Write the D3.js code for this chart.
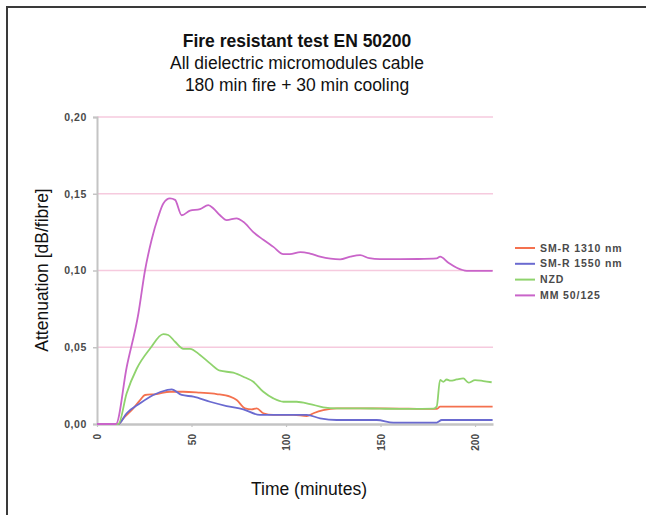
<!DOCTYPE html>
<html>
<head>
<meta charset="utf-8">
<script src="https://cdn.jsdelivr.net/npm/d3@7"></script>
<style>
  html, body { margin: 0; padding: 0; background: #fff; }
  svg { display: block; font-family: "Liberation Sans", Arial, Helvetica, sans-serif; }
</style>
</head>
<body>
<svg id="chart" width="646" height="515"></svg>
<script>
// ---- Data ----
const titleLines = ["Fire resistant test EN 50200", "All dielectric micromodules cable", "180 min fire + 30 min cooling"];
const seriesNames = ["SM-R 1310 nm", "SM-R 1550 nm", "NZD", "MM 50/125"];
const seriesColors = ["#f4714f", "#6a6ad0", "#8fd36d", "#c964c9"];
const yTicks = [0, 0.05, 0.10, 0.15, 0.20];
const xTicks = [0, 50, 100, 150, 200];

const smr1310Time = [0, 11.3, 13.9, 19.2, 22.8, 25.4, 31.6, 38.6, 45.7, 54.5, 63.3, 70.4, 73.9, 78.3, 81.8, 84.5, 88, 93.3, 103.9, 111, 114.5, 119.7, 126.8, 150, 179.7, 181.5, 209.3];
const smr1310Values = [0, 0, 0.0037, 0.0102, 0.0156, 0.0189, 0.0195, 0.021, 0.021, 0.0204, 0.0195, 0.0178, 0.0156, 0.0102, 0.0095, 0.0102, 0.007, 0.0059, 0.0059, 0.0052, 0.007, 0.009, 0.0102, 0.0102, 0.0098, 0.0113, 0.0113];

const smr1550Time = [0, 11.3, 15.7, 22.8, 29.8, 36.9, 39.5, 44.8, 51, 59.8, 68.6, 77.4, 86.2, 95.1, 111, 118, 126.8, 148, 156.8, 179.7, 182.4, 209.3];
const smr1550Values = [0, 0, 0.007, 0.0135, 0.0189, 0.0221, 0.0226, 0.0189, 0.0178, 0.0145, 0.0117, 0.0096, 0.0059, 0.0059, 0.0059, 0.0037, 0.0026, 0.0026, 0.0009, 0.0009, 0.0026, 0.0026];

const nzdTime = [0, 7, 11.3, 15.7, 21, 28, 35.1, 37.7, 41.3, 45.7, 49.2, 54.5, 59.8, 65.1, 72.1, 77.4, 82.7, 88, 93.3, 98.6, 105.6, 112.7, 119.7, 126.8, 139.2, 149.7, 165.6, 178, 179.7, 181.5, 183.2, 185, 187, 190.3, 193.8, 196.5, 200, 204.4, 208.8];
const nzdValues = [0, 0, 0, 0.020, 0.036, 0.049, 0.0586, 0.058, 0.0536, 0.049, 0.049, 0.045, 0.0395, 0.0347, 0.0334, 0.0308, 0.0275, 0.021, 0.0167, 0.0145, 0.0145, 0.013, 0.0109, 0.0102, 0.0102, 0.0100, 0.0098, 0.0100, 0.0113, 0.0287, 0.0275, 0.0290, 0.0282, 0.029, 0.0297, 0.0269, 0.0286, 0.028, 0.0272];

const mmTime = [0, 10, 15.7, 21.9, 25.4, 28.9, 32.4, 35.1, 38.6, 41.3, 44.8, 49.2, 54.5, 58.9, 61.6, 65.1, 68.6, 73.9, 77.4, 82.7, 88, 93.3, 98.6, 102, 107.6, 112.7, 118, 128.6, 134, 139.2, 144, 149.7, 160.3, 170, 179.7, 181.5, 185.9, 190.3, 195.6, 209.3];
const mmValues = [0, 0, 0.037, 0.072, 0.100, 0.120, 0.135, 0.1437, 0.147, 0.146, 0.136, 0.139, 0.140, 0.1426, 0.1404, 0.136, 0.1328, 0.134, 0.1317, 0.125, 0.120, 0.1154, 0.1107, 0.1107, 0.112, 0.111, 0.109, 0.1072, 0.109, 0.110, 0.108, 0.1074, 0.1074, 0.1075, 0.1079, 0.109, 0.105, 0.1018, 0.0998, 0.0998];

const series = [
  { name: seriesNames[0], color: seriesColors[0], t: smr1310Time, v: smr1310Values },
  { name: seriesNames[1], color: seriesColors[1], t: smr1550Time, v: smr1550Values },
  { name: seriesNames[2], color: seriesColors[2], t: nzdTime, v: nzdValues },
  { name: seriesNames[3], color: seriesColors[3], t: mmTime, v: mmValues }
];

// ---- Layout ----
const svg = d3.select("#chart");
const W = 646, H = 515;
const plot = { left: 97, right: 493, top: 117, bottom: 424 };

svg.append("rect").attr("width", W).attr("height", H).attr("fill", "#fff");
// frame (top & left border)
svg.append("path").attr("d", `M7,${H} V7 H${W}`).attr("fill", "none").attr("stroke", "#3a3a3a").attr("stroke-width", 2);

const x = d3.scaleLinear().domain([0, 209.5]).range([plot.left, plot.right]);
const y = d3.scaleLinear().domain([0, 0.20]).range([plot.bottom, plot.top]);

// gridlines
svg.append("g").selectAll("line").data(yTicks.filter(d => d > 0)).join("line")
  .attr("x1", plot.left).attr("x2", plot.right)
  .attr("y1", d => y(d)).attr("y2", d => y(d))
  .attr("stroke", "#f6cade").attr("stroke-width", 1.5);

// Y axis
const yAxis = d3.axisLeft(y).tickValues(yTicks).tickSize(4).tickPadding(6)
  .tickFormat(d => d3.format(".2f")(d).replace(".", ","));
const gy = svg.append("g").attr("transform", `translate(${plot.left},0)`).call(yAxis);
gy.select(".domain").attr("stroke", "#c4c4c4").attr("stroke-width", 2);
gy.selectAll(".tick line").attr("stroke", "#c4c4c4").attr("stroke-width", 1.5);
gy.selectAll(".tick text").attr("fill", "#4a4a4a").attr("font-size", 10.5)
  .attr("font-weight", "bold").attr("letter-spacing", 0.6)
  .attr("font-family", "'Liberation Sans', Arial, sans-serif");

// X axis
const xAxis = d3.axisBottom(x).tickValues(xTicks).tickSize(3).tickSizeOuter(0).tickFormat(d3.format("d"));
const gx = svg.append("g").attr("transform", `translate(0,${plot.bottom})`).call(xAxis);
gx.select(".domain").attr("stroke", "#c4c4c4").attr("stroke-width", 2.5);
gx.selectAll(".tick line").attr("stroke", "#c4c4c4").attr("stroke-width", 1.2);
gx.selectAll(".tick text")
  .attr("fill", "#4a4a4a").attr("font-size", 10).attr("font-weight", "bold")
  .attr("font-family", "'Liberation Sans', Arial, sans-serif")
  .attr("text-anchor", "end")
  .attr("transform", "translate(0,10) rotate(-90)")
  .attr("x", 0).attr("y", 0).attr("dy", "0.35em");

// Lines
const line = d3.line().x(d => x(d[0])).y(d => y(d[1])).curve(d3.curveMonotoneX);
svg.append("g").selectAll("path").data(series).join("path")
  .attr("d", s => line(s.t.map((t, i) => [t, s.v[i]])))
  .attr("fill", "none").attr("stroke", s => s.color).attr("stroke-width", 1.8)
  .attr("stroke-linejoin", "round");

// Legend
const legend = svg.append("g").attr("transform", "translate(515,248)");
const li = legend.selectAll("g").data(series).join("g")
  .attr("transform", (d, i) => `translate(0,${i * 15.8})`);
li.append("line").attr("x1", 0).attr("x2", 20).attr("y1", 0).attr("y2", 0)
  .attr("stroke", d => d.color).attr("stroke-width", 2);
li.append("text").attr("x", 25).attr("dy", "0.35em").text(d => d.name)
  .attr("font-size", 10.5).attr("font-weight", "bold").attr("letter-spacing", 0.9)
  .attr("fill", "#4a4a4a");

// Titles
const tg = svg.append("g").attr("text-anchor", "middle").attr("fill", "#111");
tg.selectAll("text").data(titleLines).join("text")
  .attr("x", 297).attr("y", (d, i) => 47 + i * 22)
  .attr("font-size", 17.5)
  .attr("font-weight", (d, i) => i === 0 ? "bold" : "normal")
  .text(d => d);

// Axis titles
svg.append("text").attr("x", 309).attr("y", 495).attr("text-anchor", "middle")
  .attr("font-size", 17.5).attr("fill", "#111").text("Time (minutes)");
svg.append("text").attr("transform", "translate(48,270) rotate(-90)").attr("text-anchor", "middle")
  .attr("font-size", 17.5).attr("fill", "#111").text("Attenuation [dB/fibre]");
</script>
</body>
</html>
